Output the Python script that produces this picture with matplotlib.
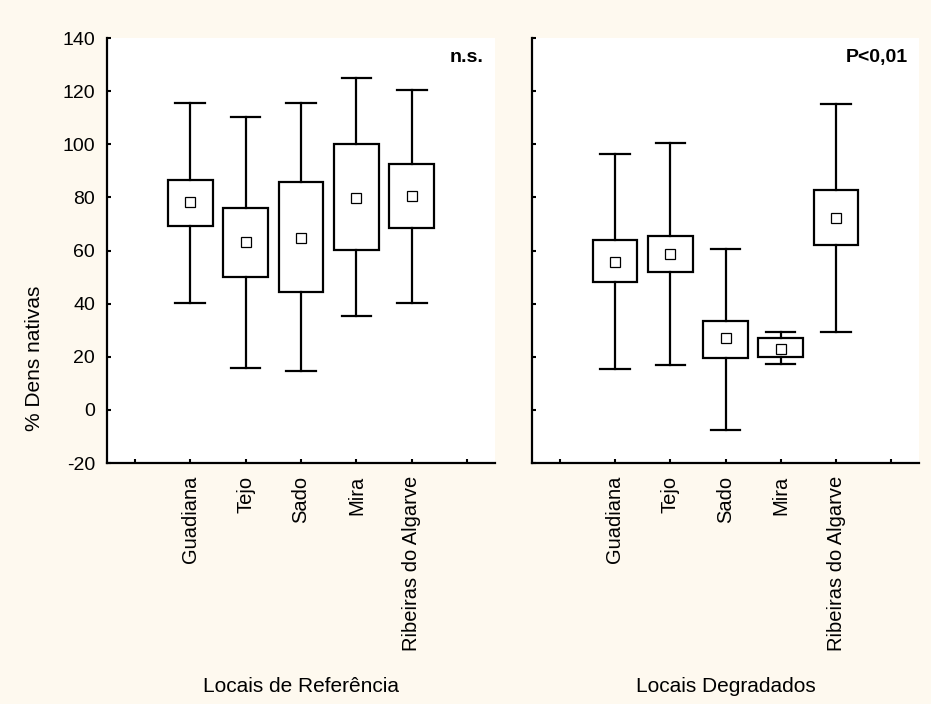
import matplotlib
matplotlib.use('Agg')
import matplotlib.pyplot as plt

plt.rcParams['font.family'] = ['Liberation Sans', 'DejaVu Sans']

categories = ['Guadiana', 'Tejo', 'Sado', 'Mira', 'Ribeiras do Algarve']

# locais de referência
ref_mean = [78.2, 63.3, 64.7, 79.7, 80.5]
ref_box_low = [69.3, 49.9, 44.4, 60.2, 68.3]
ref_box_high = [86.5, 76.0, 85.7, 100.0, 92.5]
ref_whis_low = [40.4, 15.6, 14.7, 35.3, 40.4]
ref_whis_high = [115.5, 110.2, 115.5, 124.8, 120.4]

# locais degradados
deg_mean = [55.6, 58.6, 26.9, 23.1, 72.2]
deg_box_low = [48.2, 51.8, 19.6, 19.8, 61.9]
deg_box_high = [63.8, 65.4, 33.4, 27.0, 82.8]
deg_whis_low = [15.5, 16.9, -7.4, 17.4, 29.5]
deg_whis_high = [96.4, 100.5, 60.6, 29.5, 115.2]

panel_titles = ['Locais de Referência', 'Locais Degradados']
panel_notes = ['n.s.', 'P<0,01']
ylabel = '% Dens nativas'

bg = '#FEF9EF'
fig = plt.figure(figsize=(9.31, 7.04), dpi=100, facecolor=bg)

W, H = 931, 704
ax1 = fig.add_axes([107 / W, 1 - 463 / H, 388 / W, 425 / H])
ax2 = fig.add_axes([532 / W, 1 - 463 / H, 387 / W, 425 / H])


def draw_panel(ax, mean, blo, bhi, wlo, whi, note, title, show_ylabels):
    stats = []
    for i in range(len(categories)):
        stats.append(dict(med=mean[i], q1=blo[i], q3=bhi[i],
                          whislo=wlo[i], whishi=whi[i], mean=mean[i]))
    pos = list(range(1, len(categories) + 1))
    ax.bxp(stats, positions=pos, widths=0.81, capwidths=0.53,
           showmeans=True, showfliers=False, patch_artist=True,
           boxprops=dict(facecolor='white', edgecolor='black', linewidth=1.6),
           whiskerprops=dict(color='black', linewidth=1.6),
           capprops=dict(color='black', linewidth=1.6),
           medianprops=dict(linewidth=0),
           meanprops=dict(marker='s', markersize=6.5, markerfacecolor='white',
                          markeredgecolor='black', markeredgewidth=0.9))
    ax.set_xlim(-0.5, 6.5)
    ax.set_ylim(-20, 140)
    ax.set_xticks(range(0, 7))
    ax.set_xticklabels([''] + categories + [''], rotation=90, fontsize=14.5)
    ax.set_yticks(range(-20, 141, 20))
    if show_ylabels:
        ax.set_yticklabels([str(v) for v in range(-20, 141, 20)], fontsize=14)
    else:
        ax.set_yticklabels([])
    ax.tick_params(axis='both', direction='in', length=3, width=1.5)
    ax.tick_params(axis='x', pad=9)
    ax.tick_params(axis='y', pad=8.5)
    for s in ['top', 'right']:
        ax.spines[s].set_visible(False)
    for s in ['left', 'bottom']:
        ax.spines[s].set_linewidth(1.6)
    ax.set_facecolor('white')
    ax.text(0.97, 0.955, note, transform=ax.transAxes, ha='right', va='center',
            fontsize=14, fontweight='bold')
    ax.set_xlabel(title, fontsize=15, labelpad=0)
    ax.xaxis.set_label_coords(0.5, (463 - 677) / 425, transform=ax.transAxes)


draw_panel(ax1, ref_mean, ref_box_low, ref_box_high, ref_whis_low, ref_whis_high,
           panel_notes[0], panel_titles[0], True)
draw_panel(ax2, deg_mean, deg_box_low, deg_box_high, deg_whis_low, deg_whis_high,
           panel_notes[1], panel_titles[1], False)

fig.text(35 / W, 1 - 358 / H, ylabel, rotation=90, ha='center', va='center', fontsize=15)

fig.savefig('out.png', dpi=100, facecolor=bg)
